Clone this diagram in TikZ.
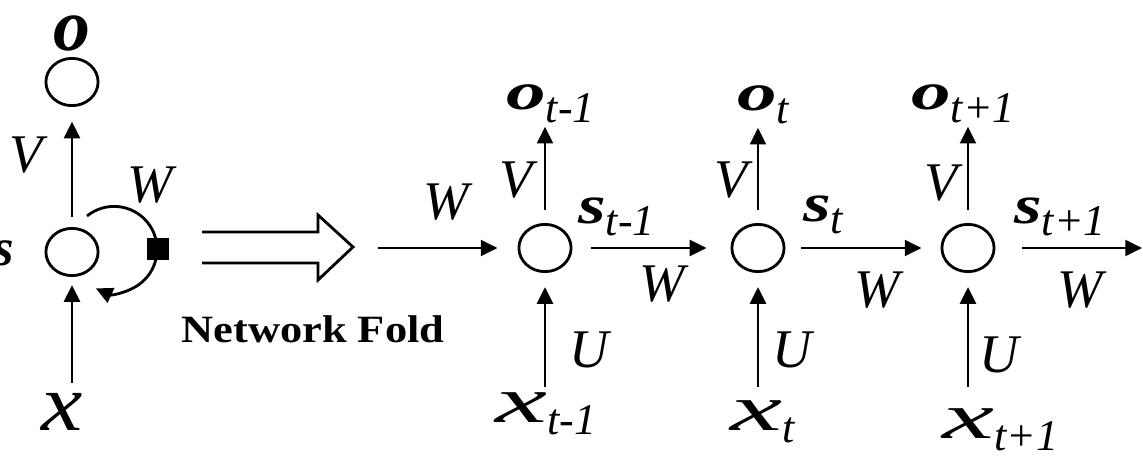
\documentclass[tikz,border=0pt]{standalone}
\usepackage{fontspec}
\setmainfont{Liberation Serif}
\usepackage{graphicx}
\usetikzlibrary{arrows.meta,shapes.geometric}

% letter with a time index, as in the unrolled net
\newcommand{\seqlab}[3][1.5]{\scalebox{#1}[1]{#2}\raisebox{-7pt}{\fontsize{25}{25}\selectfont\mdseries\itshape #3}}

\begin{document}
\begin{tikzpicture}[
  x=0.02cm, y=-0.02cm,
  line width=1.6pt,
  >={Triangle[length=9.5pt,width=9pt]},
  unit/.style={draw, ellipse, inner sep=0pt, minimum width=29.7pt, minimum height=26.9pt},
  lab/.style={inner sep=0pt, anchor=base west},
  wlab/.style={inner sep=0pt, font=\fontsize{31}{31}\selectfont\itshape},
  olab/.style={lab, font=\fontsize{30}{30}\selectfont\bfseries\itshape},
  slab/.style={lab, font=\fontsize{31}{31}\selectfont\bfseries\itshape},
  xlab/.style={lab, font=\fontsize{37}{37}\selectfont\itshape},
]
  \useasboundingbox (0,0) rectangle (1143,473);

  % folded network
  \node[unit] (o) at (72,82) {};
  \node[unit] (s) at (72,252) {};
  \node[lab, font=\fontsize{42}{42}\selectfont\bfseries\itshape] (ol) at (52,51) {o};
  \node[lab, anchor=base east, font=\fontsize{30}{30}\selectfont\bfseries\itshape] (sl) at (15,265) {s};
  \node[lab, font=\fontsize{46}{46}\selectfont\itshape] (xl) at (40,430) {\scalebox{1.15}[1]{x}};
  \node[wlab] (vl) at (26,155) {V};
  \node[wlab] (wl) at (150,185) {W};

  \draw[->, shorten <=5.7pt, shorten >=8.3pt] (s) -- (o);
  \draw[->, shorten <=5pt, shorten >=4.6pt] (xl.north -| s) -- (s);
  \draw[->] (s.center) ++(15,-36) arc[start angle=231, end angle=475, radius=43];
  \node[fill, draw=none, inner sep=0pt, minimum size=13pt] (sq) at (158,249) {};

  % fold arrow
  \coordinate (fa) at (202,247);
  \draw[line join=miter] (fa) ++(0,-15) -- ++(116,0) -- ++(0,-17) -- ++(35,32)
    -- ++(-35,33) -- ++(0,-17) -- ++(-116,0);
  \node[lab, font=\fontsize{22}{22}\selectfont\bfseries] (fold) at (180,342)
    {\scalebox{1.15}[1]{Network Fold}};

  % unrolled network
  \node[unit] (h1) at (545,248) {};
  \node[unit] (h2) at (758,248) {};
  \node[unit] (h3) at (968,248) {};

  \node[olab] (o1) at (505,110) {\seqlab{o}{t-1}};
  \node[olab] (o2) at (736,111) {\seqlab{o}{t}};
  \node[olab] (o3) at (910,110) {\seqlab{o}{t+1}};
  \node[slab] (s1) at (577,223) {\seqlab[1.3]{s}{t-1}};
  \node[slab] (s2) at (802,221) {\seqlab[1.3]{s}{t}};
  \node[slab] (s3) at (1013,223) {\seqlab[1.3]{s}{t+1}};
  \node[xlab] (x1) at (494,422) {\seqlab[1.8]{x}{t-1}};
  \node[xlab] (x2) at (729,430) {\seqlab[1.8]{x}{t}};
  \node[xlab] (x3) at (941,438) {\seqlab[1.8]{x}{t+1}};

  \node[wlab] (v1) at (516,180) {V};
  \node[wlab] (v2) at (731,180) {V};
  \node[wlab] (v3) at (941,183) {V};
  \node[wlab] (u1) at (589,350) {U};
  \node[wlab] (u2) at (792,350) {U};
  \node[wlab] (u3) at (999,355) {U};
  \node[wlab] (w0) at (446,202) {W};
  \node[wlab] (w1) at (662,284) {W};
  \node[wlab] (w2) at (877,290) {W};
  \node[wlab] (w3) at (1080,290) {W};

  \coordinate (in) at (378,248);
  \coordinate (out) at (1142,248);

  \draw[->, shorten >=11.4pt] (in) -- (h1);
  \draw[->, shorten <=10.8pt, shorten >=13.7pt] (h1) -- (h2);
  \draw[->, shorten <=9pt, shorten >=10.8pt] (h2) -- (h3);
  \draw[->, shorten <=15pt] (h3) -- (out);

  \draw[->, shorten <=7.4pt, shorten >=1.5pt] (h1.north) -- (h1.north |- o1.south);
  \draw[->, shorten <=7.4pt, shorten >=1.5pt] (h2.north) -- (h2.north |- o2.south);
  \draw[->, shorten <=7.4pt, shorten >=1.5pt] (h3.north) -- (h3.north |- o3.south);

  \draw[->, shorten >=8pt] (h1.south) ++(0,114) -- (h1.south);
  \draw[->, shorten >=8pt] (h2.south) ++(0,114) -- (h2.south);
  \draw[->, shorten >=8pt] (h3.south) ++(0,114) -- (h3.south);
\end{tikzpicture}
\end{document}
